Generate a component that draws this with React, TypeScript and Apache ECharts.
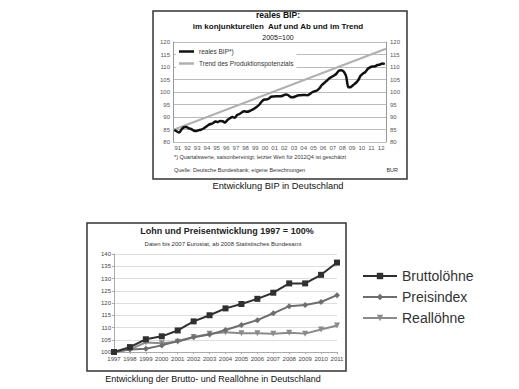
import React, { useEffect, useRef } from "react";
import * as echarts from "echarts";

// ---------- Chart 1: reales BIP (quarterly, 2005=100) ----------
const bipYearLabels = ["91","92","93","94","95","96","97","98","99","00","01","02","03","04","05","06","07","08","09","10","11","12"];
const bipQuarterly = [
  84.8, 84.3, 83.8, 85.0,
  85.9, 86.0, 85.5, 85.2,
  84.6, 84.4, 84.7, 84.9,
  85.3, 86.0, 86.7, 87.2,
  87.5, 88.2, 88.0, 88.4,
  88.3, 87.8, 88.8, 89.5,
  90.0, 89.7, 90.8, 91.2,
  91.9, 92.3, 92.1, 92.3,
  92.8, 93.3, 94.0, 94.8,
  96.0, 96.9, 97.0, 97.3,
  98.1, 98.2, 98.3, 98.3,
  98.3, 98.6, 99.0, 98.8,
  98.0, 97.9, 98.2, 98.6,
  98.7, 98.8, 98.8, 98.7,
  99.2, 99.9, 100.3, 100.6,
  101.5, 102.8, 103.6, 104.5,
  105.4, 106.0, 106.6, 107.3,
  108.5, 108.7, 108.2, 106.4,
  101.9, 102.0, 102.8, 103.6,
  104.7, 106.5, 107.4, 108.0,
  109.3, 109.9, 110.2, 110.3,
  110.8, 111.0, 111.4, 111.2,
];
const trendQuarterIdx = [0, 88];
const trendValues = [84.8, 117.3];

// ---------- Chart 2: Lohn- und Preisentwicklung 1997 = 100% ----------
const lohnYears = ["1997","1998","1999","2000","2001","2002","2003","2004","2005","2006","2007","2008","2009","2010","2011"];
const bruttoloehne = [100, 102, 105.2, 106.4, 108.8, 112.5, 115, 117.8, 119.6, 121.7, 124.2, 128, 128, 131.5, 136.5];
const preisindex = [100, 101, 101.3, 102.7, 104.5, 106, 107.1, 109, 111, 113, 115.8, 118.7, 119.2, 120.4, 123.2];
const realloehne = [100, 101.1, 103.9, 103.6, 104.2, 106.1, 107.4, 108.1, 107.7, 107.7, 107.4, 107.9, 107.5, 109.2, 110.8];

const FONT = "'Liberation Sans', Arial, sans-serif";

export default function App() {
  const ref = useRef<HTMLDivElement>(null);
  useEffect(() => {
    if (!ref.current) return;
    const chart = echarts.init(ref.current, undefined, { renderer: "svg" });
    const bipData = bipQuarterly.map((v, i) => [i + 0.5, v]);
    const trendData = trendQuarterIdx.map((q, i) => [q, trendValues[i]]);
    const axisLabelSmall = { fontSize: 6, color: "#555", fontFamily: FONT };

    chart.setOption({
      animation: false,
      textStyle: { fontFamily: FONT },
      grid: [
        { left: 173, width: 213, top: 42, height: 100, containLabel: false },
        { left: 114, width: 223, top: 254, height: 98, containLabel: false },
      ],
      xAxis: [
        {
          gridIndex: 0, type: "category", data: bipYearLabels, boundaryGap: true, position: "bottom",
          axisLine: { show: false }, axisTick: { show: false },
          axisLabel: { ...axisLabelSmall, margin: 3, interval: 0 },
          splitLine: { show: false },
        },
        {
          gridIndex: 0, type: "value", min: 0, max: 88, show: false,
          splitLine: { show: false },
        },
        {
          gridIndex: 1, type: "category", data: lohnYears, boundaryGap: false,
          axisLine: { show: true, lineStyle: { color: "#aaa", width: 1 } },
          axisTick: { show: true, length: 2, lineStyle: { color: "#aaa" } },
          axisLabel: { ...axisLabelSmall, color: "#444", margin: 4, interval: 0 },
          splitLine: { show: false },
        },
      ],
      yAxis: [
        {
          gridIndex: 0, type: "value", min: 80, max: 120, interval: 5, position: "left",
          axisLine: { show: true, lineStyle: { color: "#999", width: 1 } },
          axisTick: { show: false },
          axisLabel: { ...axisLabelSmall, margin: 3 },
          splitLine: { show: true, lineStyle: { color: "#bbb", width: 1 } },
        },
        {
          gridIndex: 0, type: "value", min: 80, max: 120, interval: 5, position: "right",
          axisLine: { show: true, lineStyle: { color: "#999", width: 1 } },
          axisTick: { show: false },
          axisLabel: { ...axisLabelSmall, margin: 4 },
          splitLine: { show: false },
        },
        {
          gridIndex: 1, type: "value", min: 100, max: 140, interval: 5,
          axisLine: { show: true, lineStyle: { color: "#aaa", width: 1 } },
          axisTick: { show: true, length: 2, lineStyle: { color: "#aaa" } },
          axisLabel: { ...axisLabelSmall, color: "#444", margin: 3 },
          splitLine: { show: true, lineStyle: { color: "#ddd", width: 1 } },
        },
      ],
      legend: [
        {
          data: [
            { name: "reales BIP*)", icon: "rect", itemStyle: { color: "#111" } },
            { name: "Trend des Produktionspotenzials", icon: "rect", itemStyle: { color: "#b0b0b0" } },
          ],
          orient: "vertical", left: 176, top: 47, itemWidth: 15, itemHeight: 2.5, itemGap: 5,
          backgroundColor: "#fff", padding: [1, 3, 1, 3],
          textStyle: { fontSize: 6.5, color: "#333", fontFamily: FONT },
          selectedMode: false,
        },
        {
          data: ["Bruttolöhne", "Preisindex", "Reallöhne"],
          orient: "vertical", left: 357, top: 264, itemWidth: 34, itemHeight: 8, itemGap: 7,
          textStyle: { fontSize: 14, color: "#333", fontFamily: FONT },
          selectedMode: false,
        },
      ],
      series: [
        {
          name: "Trend des Produktionspotenzials", type: "line", xAxisIndex: 1, yAxisIndex: 0,
          data: trendData, showSymbol: false, symbol: "none",
          lineStyle: { color: "#b0b0b0", width: 2 }, itemStyle: { color: "#b0b0b0" },
        },
        {
          name: "reales BIP*)", type: "line", xAxisIndex: 1, yAxisIndex: 0,
          data: bipData, showSymbol: false, symbol: "none", smooth: 0.3,
          lineStyle: { color: "#111", width: 2.5 }, itemStyle: { color: "#111" },
        },
        {
          name: "Reallöhne", type: "line", xAxisIndex: 2, yAxisIndex: 2,
          data: realloehne, symbol: "triangle", symbolRotate: 180, symbolSize: 6,
          lineStyle: { color: "#8a8a8a", width: 2 }, itemStyle: { color: "#8a8a8a" },
        },
        {
          name: "Preisindex", type: "line", xAxisIndex: 2, yAxisIndex: 2,
          data: preisindex, symbol: "diamond", symbolSize: 6,
          lineStyle: { color: "#6e6e6e", width: 2 }, itemStyle: { color: "#6e6e6e" },
        },
        {
          name: "Bruttolöhne", type: "line", xAxisIndex: 2, yAxisIndex: 2,
          data: bruttoloehne, symbol: "rect", symbolSize: 6,
          lineStyle: { color: "#303030", width: 2 }, itemStyle: { color: "#303030" },
        },
      ],
      graphic: [
        // top chart frame
        { type: "rect", shape: { x: 153, y: 11, width: 254, height: 168 }, style: { fill: "none", stroke: "#333", lineWidth: 1.5 }, z: 0, silent: true },
        { type: "text", style: { text: "reales BIP:", x: 278, y: 15, textAlign: "center", textVerticalAlign: "middle", font: `bold 8.5px ${FONT}`, fill: "#111" } },
        { type: "text", style: { text: "im konjunkturellen  Auf und Ab und im Trend", x: 278, y: 26, textAlign: "center", textVerticalAlign: "middle", font: `bold 8px ${FONT}`, fill: "#111" } },
        { type: "text", style: { text: "2005=100", x: 278, y: 37, textAlign: "center", textVerticalAlign: "middle", font: `7px ${FONT}`, fill: "#111" } },
        { type: "text", style: { text: "*) Quartalswerte, saisonbereinigt; letzter Wert für 2012Q4 ist geschätzt", x: 174, y: 157, textAlign: "left", textVerticalAlign: "middle", font: `5.5px ${FONT}`, fill: "#333" } },
        { type: "text", style: { text: "Quelle: Deutsche Bundesbank; eigene Berechnungen", x: 174, y: 170, textAlign: "left", textVerticalAlign: "middle", font: `5.5px ${FONT}`, fill: "#333" } },
        { type: "text", style: { text: "BUR", x: 398, y: 170, textAlign: "right", textVerticalAlign: "middle", font: `5.5px ${FONT}`, fill: "#333" } },
        { type: "text", style: { text: "Entwicklung BIP in Deutschland", x: 278, y: 186, textAlign: "center", textVerticalAlign: "middle", font: `9.3px ${FONT}`, fill: "#111" } },
        // bottom chart frame
        { type: "rect", shape: { x: 87, y: 223, width: 259, height: 148 }, style: { fill: "none", stroke: "#333", lineWidth: 1.5 }, z: 0, silent: true },
        { type: "text", style: { text: "Lohn und Preisentwicklung 1997 = 100%", x: 227, y: 231, textAlign: "center", textVerticalAlign: "middle", font: `bold 9px ${FONT}`, fill: "#222" } },
        { type: "text", style: { text: "Daten bis 2007 Eurostat, ab 2008 Statistisches Bundesamt", x: 223, y: 244, textAlign: "center", textVerticalAlign: "middle", font: `6px ${FONT}`, fill: "#333" } },
        { type: "text", style: { text: "Entwicklung der Brutto- und Reallöhne in Deutschland", x: 213, y: 379, textAlign: "center", textVerticalAlign: "middle", font: `9px ${FONT}`, fill: "#111" } },
      ],
    });
    return () => chart.dispose();
  }, []);
  return (
    <div
      ref={ref}
      style={{ position: "absolute", left: 0, top: 0, width: 519, height: 389, background: "#fff" }}
    />
  );
}
